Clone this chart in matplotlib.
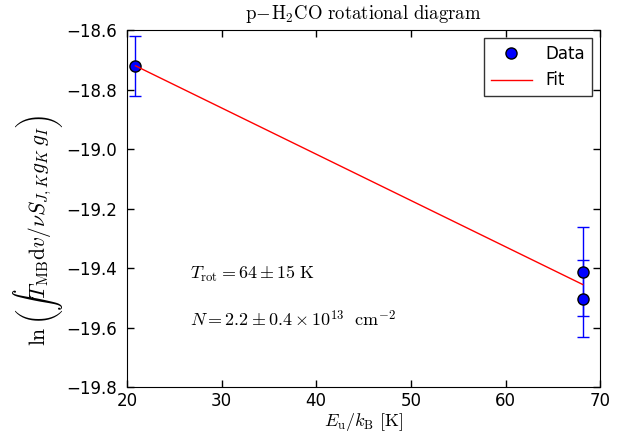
import matplotlib.pyplot as plt

# energies and integrated intensities
eu = [20.9, 68.15, 68.15]
lnN = [-18.72, -19.412, -19.503]
err = [0.10, 0.15, 0.13]

# fit line
fit_x = [20.9, 68.15]
fit_y = [-18.72, -19.455]

xticks = [20, 30, 40, 50, 60, 70]
yticks = [-19.8, -19.6, -19.4, -19.2, -19.0, -18.8, -18.6]

plt.rcParams['mathtext.fontset'] = 'cm'
plt.rcParams['xtick.direction'] = 'in'
plt.rcParams['ytick.direction'] = 'in'
plt.rcParams['xtick.top'] = True
plt.rcParams['ytick.right'] = True

fig = plt.figure(figsize=(6.22, 4.36), dpi=100)
ax = fig.add_axes([0.204, 0.112, 0.761, 0.819])

ax.errorbar(eu, lnN, yerr=err, fmt='none', ecolor='b', capsize=4, elinewidth=1)
pts, = ax.plot(eu, lnN, 'o', color='b', mec='k', ms=8, label='Data')
fit, = ax.plot(fit_x, fit_y, color='r', lw=1, label='Fit')

ax.set_xlim(20, 70)
ax.set_ylim(-19.8, -18.6)
ax.set_xticks(xticks)
ax.set_yticks(yticks)
ax.set_yticklabels([('%.1f' % v).replace('-', '\u2212') for v in yticks])
ax.tick_params(labelsize=12, length=5, width=1)
ax.tick_params(axis='y', pad=7)

ax.set_title(r'$\mathrm{p\!-\!H_2CO\ rotational\ diagram}$', fontsize=13.5, pad=8)
ax.set_xlabel(r'$E_{\rm u}/k_{\rm B}\ [{\rm K}]$', fontsize=13, labelpad=1)
ax.set_ylabel(r'$\ln\left(\int T_{\rm MB}{\rm d}v/\nu S_{J,K}g_K\, g_I\right)$', fontsize=15.5)
ax.yaxis.set_label_coords(-0.13, 0.44)

ax.text(26.7, -19.42, r'$T_{\rm rot}=64\pm15\ {\rm K}$', fontsize=13, va='center')
ax.text(26.7, -19.575, r'$N=2.2\pm0.4\times10^{13}\ \ {\rm cm}^{-2}$', fontsize=13, va='center')

leg = ax.legend([pts, fit], ['Data', 'Fit'], loc='upper right', numpoints=1,
                fancybox=False, fontsize=12, handlelength=2.5)
leg.get_frame().set_edgecolor('k')

plt.savefig('out.png', dpi=100)
